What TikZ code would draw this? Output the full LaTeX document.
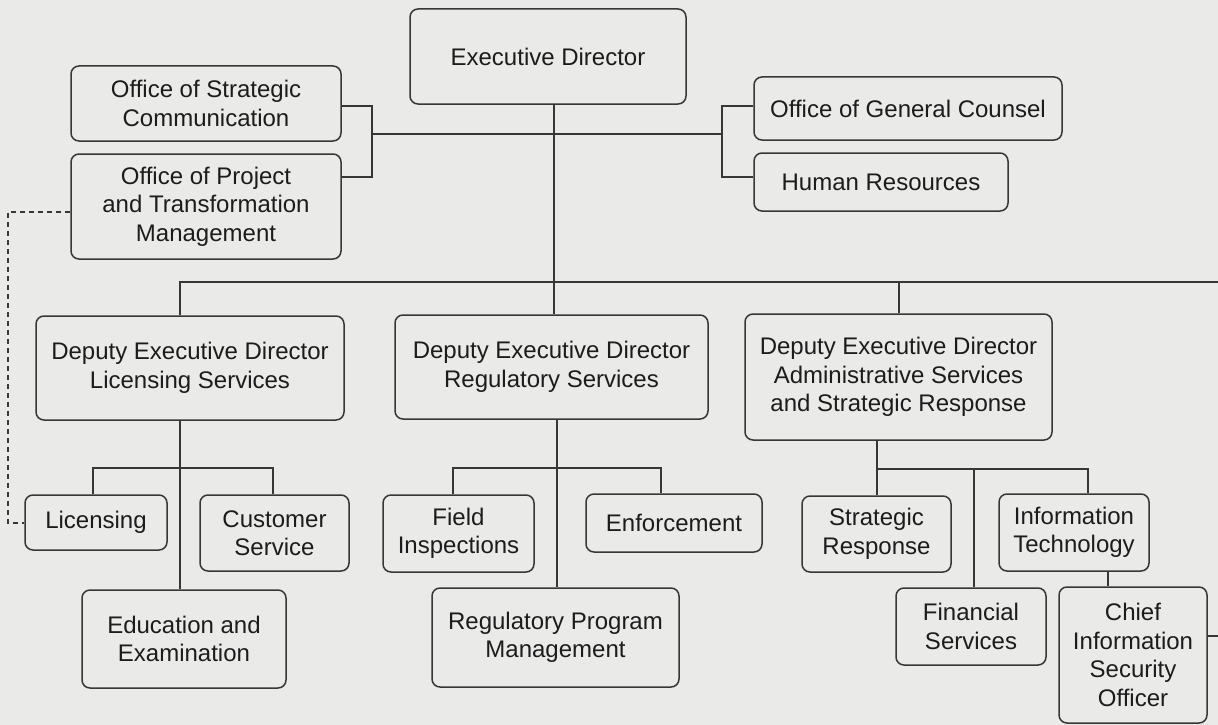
\documentclass[tikz,border=0pt]{standalone}
\usepackage{fontspec}
\setmainfont{Liberation Sans}
\definecolor{bgc}{RGB}{234,234,233}
\definecolor{linec}{RGB}{55,55,55}
\definecolor{textc}{RGB}{28,28,28}
\newcommand\boxfont{\fontsize{24}{28.5}\selectfont}
\begin{document}
\begin{tikzpicture}[x=1pt,y=-1pt,
  orgbox/.style={draw=linec, rounded corners=8pt, line width=1.5pt, align=center,
    inner sep=0pt, font=\boxfont, text=textc},
  conn/.style={draw=linec, line width=1.5pt},
  dconn/.style={draw=linec, line width=1.2pt, dash pattern=on 5pt off 4pt}]
\fill[bgc] (0,0) rectangle (1218,725);
\useasboundingbox (0,0) rectangle (1218,725);

% top level
\node[orgbox, minimum width=276pt, minimum height=95pt] (ED) at (548,56.5) {Executive Director};
\node[orgbox, minimum width=270pt, minimum height=75pt] (OSC) at (206,103.5) {Office of Strategic\\Communication};
\node[orgbox, minimum width=270pt, minimum height=105pt] (OPTM) at (206,206.5) {Office of Project\\and Transformation\\Management};
\node[orgbox, minimum width=308pt, minimum height=63pt] (OGC) at (908,108.5) {Office of General Counsel};
\node[orgbox, minimum width=254pt, minimum height=58pt] (HR) at (881,182) {Human Resources};

% deputies
\node[orgbox, minimum width=308pt, minimum height=104pt] (DEDL) at (190,368) {Deputy Executive Director\\Licensing Services};
\node[orgbox, minimum width=313pt, minimum height=104pt] (DEDR) at (551.5,367) {Deputy Executive Director\\Regulatory Services};
\node[orgbox, minimum width=307pt, minimum height=126pt] (DEDA) at (898.5,377) {Deputy Executive Director\\Administrative Services\\and Strategic Response};

% licensing branch
\node[orgbox, minimum width=142pt, minimum height=55pt] (LIC) at (96,522.5) {Licensing};
\node[orgbox, minimum width=149pt, minimum height=76pt] (CS) at (274.5,533) {Customer\\Service};
\node[orgbox, minimum width=204pt, minimum height=98pt] (EE) at (184,639) {Education and\\Examination};

% regulatory branch
\node[orgbox, minimum width=151pt, minimum height=77pt] (FI) at (458.5,533.5) {Field\\Inspections};
\node[orgbox, minimum width=176pt, minimum height=58pt] (ENF) at (674,523) {Enforcement};
\node[orgbox, minimum width=247pt, minimum height=99pt] (RPM) at (555.5,637.5) {Regulatory Program\\Management};

% administrative branch
\node[orgbox, minimum width=149pt, minimum height=76pt] (SR) at (876.5,534) {Strategic\\Response};
\node[orgbox, minimum width=150pt, minimum height=77pt] (IT) at (1074,532.5) {Information\\Technology};
\node[orgbox, minimum width=150pt, minimum height=77pt] (FS) at (971,626.5) {Financial\\Services};
\node[orgbox, minimum width=148pt, minimum height=136pt] (CISO) at (1133,655) {Chief\\Information\\Security\\Officer};

% junction coordinates
\coordinate (lb1) at (372,106);
\coordinate (lb2) at (372,177);
\coordinate (rb1) at (722,106);
\coordinate (rb2) at (722,177);
\coordinate (stL) at (372,134);
\coordinate (stR) at (722,134);
\coordinate (trunk) at (554,134);
\coordinate (busL) at (180,282);
\coordinate (busM) at (554,282);
\coordinate (busA) at (899,282);
\coordinate (busR) at (1218,282);
\coordinate (lsL) at (93,468);
\coordinate (lsR) at (273,468);
\coordinate (lsM) at (180,468);
\coordinate (rsL) at (453,468);
\coordinate (rsR) at (661,468);
\coordinate (rsM) at (557,468);
\coordinate (asL) at (877,469);
\coordinate (asM) at (974,469);
\coordinate (asR) at (1088,469);
\coordinate (itx) at (1108,580);
\coordinate (cisoR) at (1218,636);
\coordinate (dA) at (8,212);
\coordinate (dB) at (8,523);

% top connectors
\draw[conn] (ED.south -| trunk) -- (trunk) -- (busM) -- (DEDR.north -| busM);
\draw[conn] (stL) -- (stR);
\draw[conn] (OSC.east |- lb1) -- (lb1) -- (lb2) -- (OPTM.east |- lb2);
\draw[conn] (OGC.west |- rb1) -- (rb1) -- (rb2) -- (HR.west |- rb2);

% main bus
\draw[conn] (DEDL.north -| busL) -- (busL) -- (busR);
\draw[conn] (busA) -- (DEDA.north -| busA);

% licensing
\draw[conn] (DEDL.south -| lsM) -- (EE.north -| lsM);
\draw[conn] (LIC.north -| lsL) -- (lsL) -- (lsR) -- (CS.north -| lsR);

% regulatory
\draw[conn] (DEDR.south -| rsM) -- (RPM.north -| rsM);
\draw[conn] (FI.north -| rsL) -- (rsL) -- (rsR) -- (ENF.north -| rsR);

% administrative
\draw[conn] (DEDA.south -| asL) -- (SR.north -| asL);
\draw[conn] (asL) -- (asR) -- (IT.north -| asR);
\draw[conn] (asM) -- (FS.north -| asM);
\draw[conn] (IT.south -| itx) -- (CISO.north -| itx);
\draw[conn] (CISO.east |- cisoR) -- (cisoR);

% dotted-line relationship
\draw[dconn] (OPTM.west |- dA) -- (dA) -- (dB) -- (LIC.west |- dB);
\end{tikzpicture}
\end{document}
